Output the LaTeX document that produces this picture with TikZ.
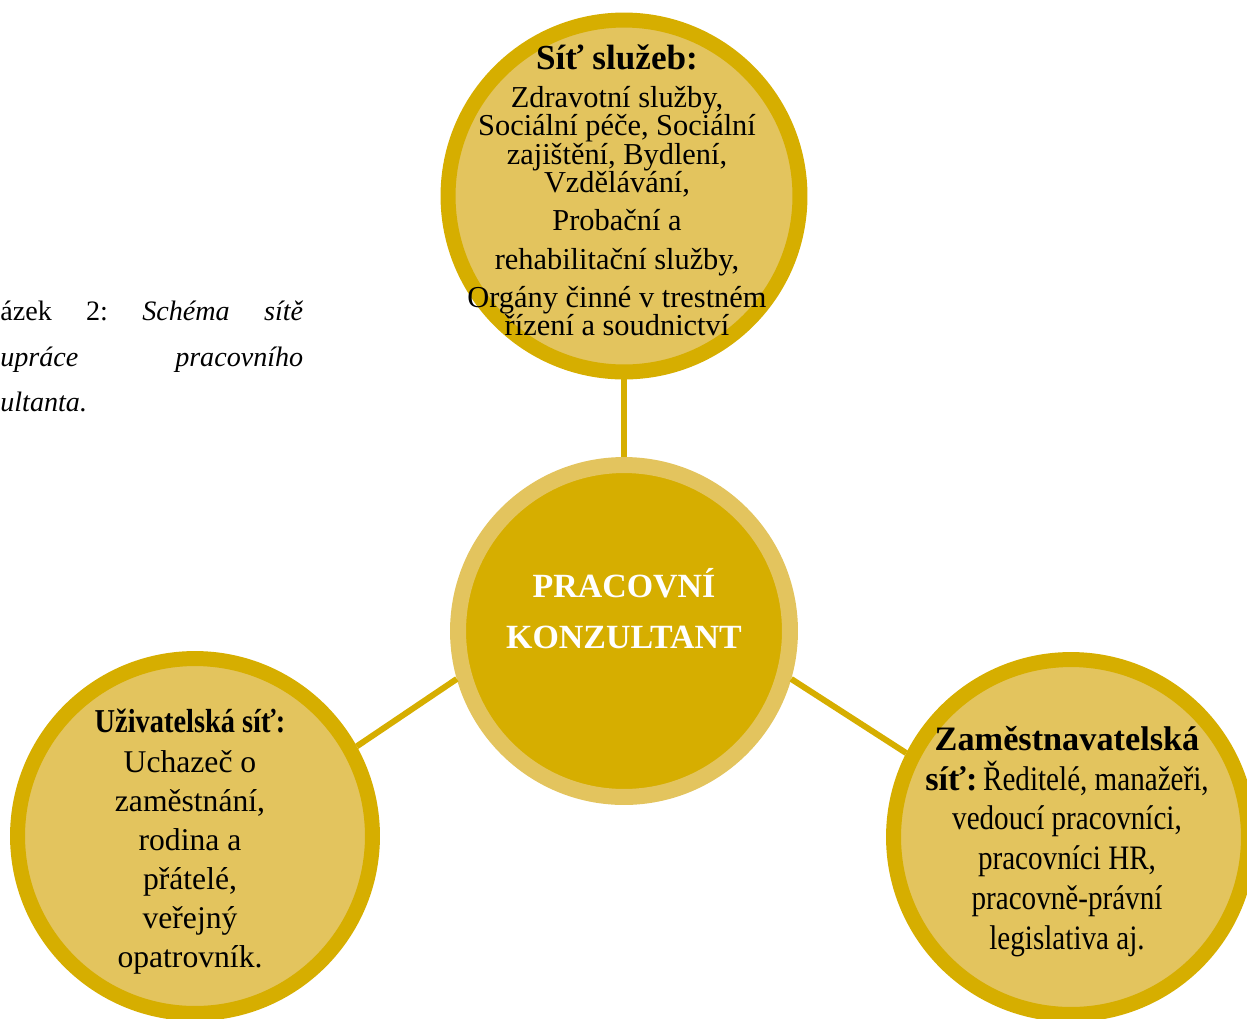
\documentclass[tikz,border=0pt]{standalone}
\usepackage{fontspec}
\setmainfont{Liberation Serif}
\usepackage{graphicx}
\usetikzlibrary{positioning}
\definecolor{gold}{HTML}{D6AE00}
\definecolor{lightgold}{HTML}{E3C45E}
\newcommand{\cond}[1]{\scalebox{0.85}[1]{#1}}

\begin{document}
\begin{tikzpicture}[x=0.02cm,y=-0.02cm,
	ring/.style={circle,draw=gold,fill=lightgold,line width=0.3cm,inner sep=0pt,minimum size=7.04cm},
	hubring/.style={circle,draw=lightgold,fill=gold,line width=0.32cm,inner sep=0pt,minimum size=6.64cm},
	link/.style={draw=gold,line width=0.12cm},
	txt/.style={align=center,inner sep=0pt}]
	\useasboundingbox (0,0) rectangle (1247,1018);
	\clip (0,0) rectangle (1247,1018);
	% circles
	\node[ring] (top) at (624,196) {};
	\node[hubring] (hub) at (624,631) {};
	\node[ring,minimum size=7.1cm] (left) at (195,836) {};
	\node[ring,minimum size=7.1cm] (right) at (1071,837) {};
	% connectors
	\draw[link] (top.south) -- (hub.north);
	\draw[link] (left.29) -- (hub.196);
	\draw[link] (hub.344) -- (right.153);
	% texts
	\node[txt,anchor=north,font=\fontsize{17.3}{16.2}\selectfont] (top-text) at (617,44)
		{{\fontsize{20}{20}\selectfont\bfseries Síť služeb:}\\[5.5pt]
		Zdravotní služby,\\ Sociální péče, Sociální\\ zajištění, Bydlení,\\ Vzdělávání,\\[5.5pt]
		Probační a\\[5.8pt] rehabilitační služby,\\[5.3pt] Orgány činné v trestném\\ řízení a soudnictví};
	\node[txt,anchor=north,text=white,font=\fontsize{19.3}{29}\selectfont\bfseries] (hub-text) at (624,568)
		{PRACOVNÍ\\ KONZULTANT};
	\node[txt,anchor=north,font=\fontsize{18}{22.3}\selectfont] (left-text) at (190,709)
		{\cond{\fontsize{19}{22}\selectfont\bfseries Uživatelská síť:}\\ Uchazeč o\\ zaměstnání,\\ rodina a\\ přátelé,\\ veřejný\\ opatrovník.};
	\node[txt,anchor=north,font=\fontsize{19.5}{22.6}\selectfont] (right-text) at (1067,726)
		{\textbf{Zaměstnavatelská}\\ \textbf{síť:}\,\cond{Ředitelé, manažeři,}\\ \cond{vedoucí pracovníci,}\\
		\cond{pracovníci HR,}\\ \cond{pracovně-právní}\\ \cond{legislativa aj.}};
	% caption
	\node[anchor=base west,inner sep=0pt,text width=6.06cm,font=\fontsize{16}{16}\selectfont] (cap-a) at (0,320)
		{ázek\hfill 2:\hfill \textit{Schéma}\hfill \textit{sítě}};
	\node[anchor=base west,inner sep=0pt,text width=6.06cm,font=\fontsize{16}{16}\selectfont] (cap-b) at (0,366)
		{\textit{upráce}\hfill \textit{pracovního}};
	\node[anchor=base west,inner sep=0pt,font=\fontsize{16}{16}\selectfont] (cap-c) at (0,411)
		{\textit{ultanta.}};
\end{tikzpicture}
\end{document}
